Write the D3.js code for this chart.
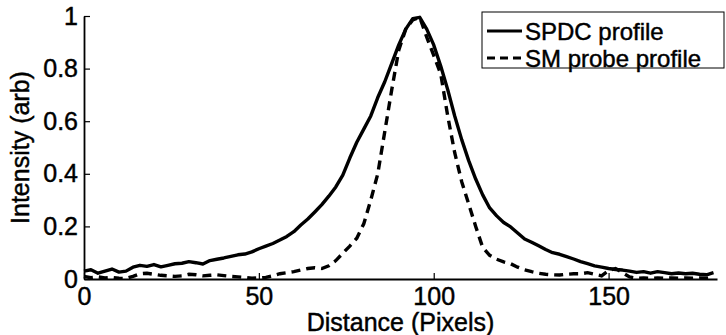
<!DOCTYPE html>
<html>
<head>
<meta charset="utf-8">
<script src="https://cdn.jsdelivr.net/npm/d3@7"></script>
<style>
  body { margin: 0; background: #fff; }
  svg { display: block; }
  text { font-family: "Liberation Sans", Arial, Helvetica, sans-serif; fill: #000; }
</style>
</head>
<body>
<svg id="chart" width="726" height="335"></svg>
<script>
// Sample positions along the cut (pixels)
const distance = [
  0, 2, 4, 6, 8, 10, 12, 14, 16, 18, 20, 22, 24, 26, 28, 30, 32, 34, 36, 38,
  40, 42, 44, 46, 48, 50, 52, 54, 56, 58, 60, 62, 64, 66, 68, 70, 72, 74, 76, 78,
  80, 82, 84, 86, 88, 90, 92, 94, 96, 98, 100, 102, 104, 106, 108, 110, 112, 114, 116, 118,
  120, 122, 124, 126, 128, 130, 132, 134, 136, 138, 140, 142, 144, 146, 148, 150, 152, 154, 156, 158,
  160, 162, 164, 166, 168, 170, 172, 174, 176, 178, 180
];

// Normalised SPDC intensity profile
const spdcProfile = [
  0.030, 0.035, 0.022, 0.030, 0.038, 0.026, 0.030, 0.045, 0.052, 0.048,
  0.055, 0.046, 0.052, 0.058, 0.060, 0.066, 0.062, 0.057, 0.070, 0.075,
  0.080, 0.086, 0.092, 0.095, 0.103, 0.115, 0.125, 0.135, 0.148, 0.162,
  0.180, 0.205, 0.228, 0.255, 0.283, 0.315, 0.350, 0.395, 0.460, 0.520,
  0.570, 0.620, 0.690, 0.750, 0.820, 0.890, 0.950, 0.990, 0.995, 0.950,
  0.890, 0.810, 0.720, 0.620, 0.530, 0.450, 0.380, 0.320, 0.270, 0.240,
  0.215, 0.198, 0.175, 0.152, 0.140, 0.126, 0.112, 0.100, 0.094, 0.085,
  0.076, 0.066, 0.058, 0.050, 0.045, 0.040, 0.036, 0.034, 0.030, 0.025,
  0.028, 0.022, 0.028, 0.024, 0.020, 0.023, 0.020, 0.022, 0.018, 0.016,
  0.024
];

// Normalised single-mode probe profile
const smProbeProfile = [
  0.010, 0.005, 0.008, 0.004, 0.006, 0.003, 0.002, 0.010, 0.020, 0.022,
  0.018, 0.014, 0.012, 0.010, 0.012, 0.018, 0.016, 0.012, 0.014, 0.016,
  0.013, 0.010, 0.008, 0.006, 0.003, 0.004, 0.006, 0.012, 0.020, 0.024,
  0.028, 0.034, 0.040, 0.043, 0.040, 0.050, 0.070, 0.098, 0.125, 0.155,
  0.210, 0.300, 0.400, 0.560, 0.720, 0.870, 0.950, 0.985, 0.995, 0.920,
  0.850, 0.780, 0.620, 0.480, 0.370, 0.285, 0.200, 0.120, 0.090, 0.075,
  0.065, 0.058, 0.045, 0.035, 0.028, 0.022, 0.018, 0.016, 0.015, 0.018,
  0.020, 0.020, 0.024, 0.018, 0.012, 0.032, 0.040, 0.024, 0.008, 0.003,
  0.004, 0.003, 0.004, 0.003, 0.004, 0.003, 0.004, 0.003, 0.004, 0.003,
  0.004
];

const xTicks = [0, 50, 100, 150];
const yTicks = [0, 0.2, 0.4, 0.6, 0.8, 1];
const xDomain = [0, 181];
const yDomain = [0, 1];

const seriesNames = ["SPDC profile", "SM probe profile"];

const svg = d3.select("#chart");

const x = d3.scaleLinear().domain(xDomain).range([84, 717]);
const y = d3.scaleLinear().domain(yDomain).range([279, 16]);

const fontSize = 25;
const inkStroke = 0.45; // slight weight on type so it reads like print

// Curves
const line = d3.line()
  .x((d, i) => x(distance[i]))
  .y(d => y(d));

svg.append("path")
  .datum(spdcProfile)
  .attr("d", line)
  .attr("fill", "none")
  .attr("stroke", "#000")
  .attr("stroke-width", 3.4)
  .attr("stroke-linejoin", "round");

svg.append("path")
  .datum(smProbeProfile)
  .attr("d", line)
  .attr("fill", "none")
  .attr("stroke", "#000")
  .attr("stroke-width", 3.4)
  .attr("stroke-dasharray", "9,6");

// Axes with inward ticks
const xAxis = d3.axisBottom(x)
  .tickValues(xTicks)
  .tickSizeInner(-6)
  .tickSizeOuter(0)
  .tickPadding(8)
  .tickFormat(d3.format("d"));

const yAxis = d3.axisLeft(y)
  .tickValues(yTicks)
  .tickSizeInner(-6)
  .tickSizeOuter(0)
  .tickPadding(6)
  .tickFormat(d => (d === 0 || d === 1) ? String(d) : d3.format(".1f")(d));

const gx = svg.append("g")
  .attr("transform", `translate(0,${y(0)})`)
  .call(xAxis);
const gy = svg.append("g")
  .attr("transform", `translate(${x(0)},0)`)
  .call(yAxis);

[gx, gy].forEach(g => {
  g.select(".domain").attr("stroke", "#000").attr("stroke-width", 1.8);
  g.selectAll(".tick line").attr("stroke", "#000").attr("stroke-width", 1.2);
  g.selectAll(".tick text")
    .attr("font-size", fontSize)
    .attr("font-family", "'Liberation Sans', Arial, sans-serif")
    .attr("fill", "#000")
    .attr("stroke", "#000")
    .attr("stroke-width", inkStroke);
});

// Axis titles
svg.append("text")
  .attr("x", (x(0) + x(xDomain[1])) / 2)
  .attr("y", 331)
  .attr("text-anchor", "middle")
  .attr("font-size", fontSize)
  .attr("stroke", "#000")
  .attr("stroke-width", inkStroke)
  .text("Distance (Pixels)");

svg.append("text")
  .attr("transform", `translate(29,${(y(0) + y(1)) / 2}) rotate(-90)`)
  .attr("text-anchor", "middle")
  .attr("font-size", fontSize)
  .attr("stroke", "#000")
  .attr("stroke-width", inkStroke)
  .text("Intensity (arb)");

// Legend
const legendFont = 24;
const legend = svg.append("g").attr("transform", "translate(482,12)");
legend.append("rect")
  .attr("width", 242)
  .attr("height", 56)
  .attr("fill", "#fff")
  .attr("stroke", "#000")
  .attr("stroke-width", 1);

seriesNames.forEach((name, i) => {
  const cy = 19 + i * 27;
  legend.append("line")
    .attr("x1", 5).attr("x2", 40)
    .attr("y1", cy).attr("y2", cy)
    .attr("stroke", "#000")
    .attr("stroke-width", 3)
    .attr("stroke-dasharray", i === 1 ? "8,5" : null);
  legend.append("text")
    .attr("x", 43)
    .attr("y", cy + 8.5)
    .attr("font-size", legendFont)
    .attr("stroke", "#000")
    .attr("stroke-width", inkStroke)
    .text(name);
});
</script>
</body>
</html>
